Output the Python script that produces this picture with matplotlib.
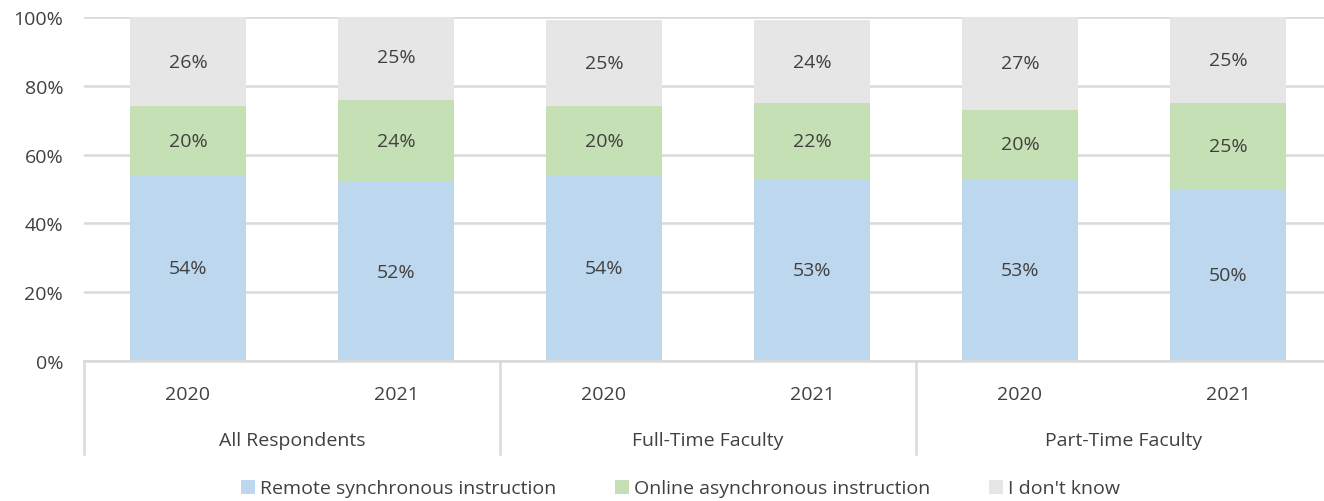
import numpy as np
import matplotlib.pyplot as plt
from matplotlib.transforms import blended_transform_factory

plt.rcParams['font.family'] = ['Open Sans', 'DejaVu Sans']

groups = ["All Respondents", "Full-Time Faculty", "Part-Time Faculty"]
years = ["2020", "2021"]
remote_sync = [54, 52, 54, 53, 53, 50]
online_async = [20, 24, 20, 22, 20, 25]
dont_know = [26, 25, 25, 24, 27, 25]

series = [
    ("Remote synchronous instruction", remote_sync, "#BDD7EE"),
    ("Online asynchronous instruction", online_async, "#C5E0B4"),
    ("I don't know", dont_know, "#E7E6E6"),
]

text_col = "#404040"
grid_col = "#D9D9D9"
fs = 14

fig = plt.figure(figsize=(13.24, 5.02), dpi=100)
ax = fig.add_axes([84 / 1324, 140 / 502, 1248 / 1324, 344 / 502])

x = np.arange(len(remote_sync))
bottom = np.zeros(len(x))
for name, vals, col in series:
    vals = np.array(vals, dtype=float)
    ax.bar(x, vals, 0.56, bottom=bottom, color=col, label=name, zorder=2)
    for xi, b, v in zip(x, bottom, vals):
        ax.text(xi, b + v / 2, f"{v:.0f}%", ha="center", va="center",
                fontsize=fs, color=text_col, zorder=3)
    bottom += vals

ax.set_xlim(-0.5, len(x) - 0.5)
ax.set_ylim(0, 100)
ax.set_yticks(range(0, 101, 20))
ax.set_yticklabels([f"{v}%" for v in range(0, 101, 20)])
ax.yaxis.grid(True, color=grid_col, linewidth=1.8, zorder=0)
ax.tick_params(axis="y", length=0, pad=15, labelsize=fs, labelcolor=text_col)
ax.set_xticks([])
for s in ["top", "right", "left"]:
    ax.spines[s].set_visible(False)
ax.spines["bottom"].set_color(grid_col)
ax.spines["bottom"].set_linewidth(1.8)

# two-level category axis below the bars
tr = blended_transform_factory(ax.transData, ax.transAxes)
for xi in x:
    ax.text(xi, -0.095, years[xi % 2], transform=tr, ha="center", va="center",
            fontsize=fs, color=text_col)
for gi, g in enumerate(groups):
    ax.text(gi * 2 + 0.5, -0.23, g, transform=tr, ha="center", va="center",
            fontsize=fs, color=text_col)
for sep in [-0.5, 1.5, 3.5, 5.5]:
    ax.plot([sep, sep], [0, -0.27], transform=tr, color=grid_col,
            linewidth=1.8, clip_on=False)

fig.legend(loc="center", bbox_to_anchor=(0.514, 0.025), ncol=3, frameon=False,
           fontsize=fs, handlelength=0.75, handleheight=0.75, handletextpad=0.25,
           columnspacing=3.0, labelcolor=text_col)

fig.savefig("out.png", dpi=100)
